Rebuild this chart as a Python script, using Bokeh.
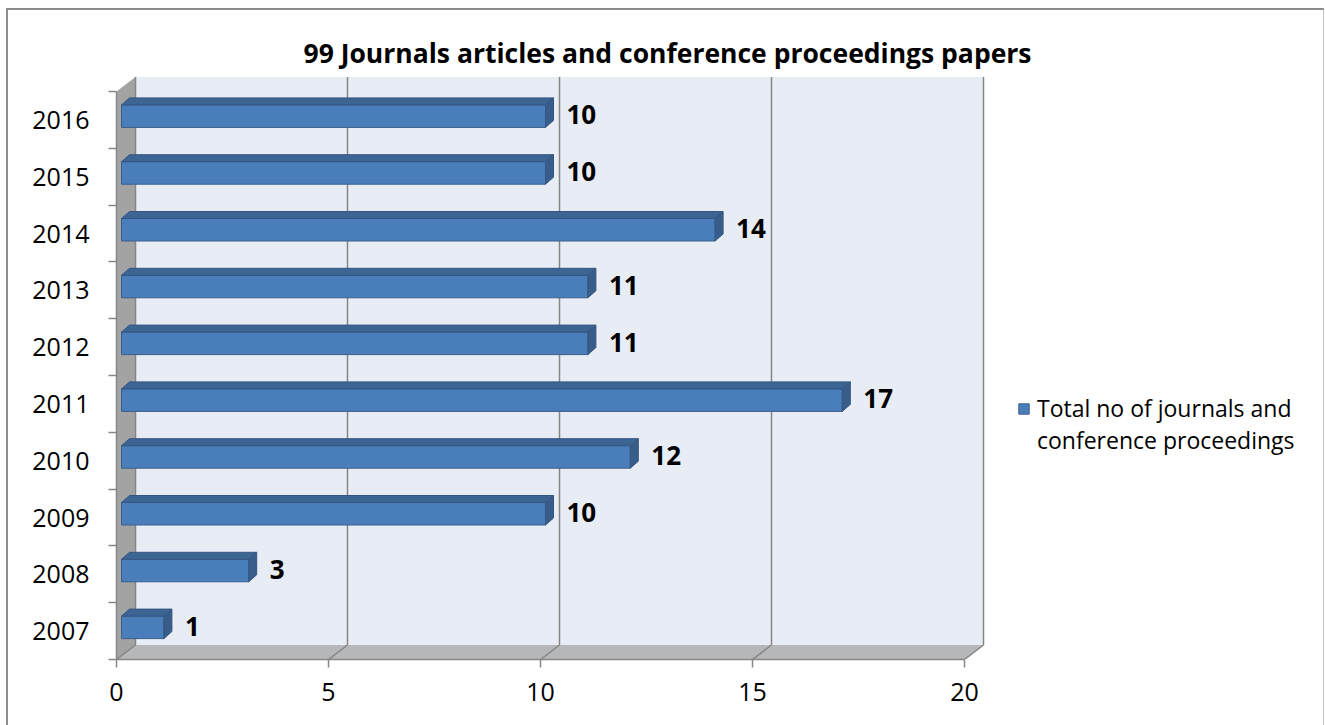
from bokeh.plotting import figure
from bokeh.models import Range1d, FixedTicker, Legend, LegendItem
from bokeh.core.properties import value
from bokeh.embed import file_html
from bokeh.resources import INLINE

# ---- data ----
years = ["2007", "2008", "2009", "2010", "2011", "2012", "2013", "2014", "2015", "2016"]
counts = [1, 3, 10, 12, 17, 11, 11, 14, 10, 10]
x_ticks = [0, 5, 10, 15, 20]
title_text = "99 Journals articles and conference proceedings papers"
legend_lines = ["Total no of journals and", "conference proceedings"]

# ---- layout (pixels) ----
W, H = 1325, 725
LEFT, RIGHT, TOP, BOTTOM = 116, 1325, 72, 659
PX_X = 42.4   # px per value unit
PX_Y = 56.8   # px per category
x_end = (RIGHT - LEFT) / PX_X
y_start = -0.5
y_end = y_start + (BOTTOM - TOP) / PX_Y

DX, DY = 19 / PX_X, 14.5 / PX_Y        # wall depth
OX = 5 / PX_X                           # bar offset from front
FB, FT = -7.5 / PX_Y, 15 / PX_Y         # bar front face bottom/top
BDX, BDY = 8 / PX_X, 7 / PX_Y           # bar depth
GAP = 13 / PX_X
LY = 5 / PX_Y

FONT = "Open Sans"
AX_COL = "#868686"
G = "#8C8C8C"

p = figure(width=W, height=H, output_backend="svg", toolbar_location=None,
           x_range=Range1d(0, x_end), y_range=Range1d(y_start, y_end),
           min_border_left=LEFT, min_border_right=W - RIGHT,
           min_border_top=TOP, min_border_bottom=H - BOTTOM)
p.outline_line_color = None
p.background_fill_color = None
p.border_fill_color = None
p.xgrid.visible = False
p.ygrid.visible = False
p.styles = {
    "background-color": "white",
    "background-image": f"linear-gradient({G},{G}), linear-gradient({G},{G}), linear-gradient(#C4C4C4,#C4C4C4)",
    "background-position": "6px 8px, 6px 8px, 1323px 8px",
    "background-size": "2px 100%, 1318px 2px, 1px 100%",
    "background-repeat": "no-repeat",
}

n = len(years)
ylo, yhi = -0.5, n - 0.5
xmax = x_ticks[-1]

# back wall
p.quad(left=DX, right=xmax + DX, bottom=ylo + DY, top=yhi + DY,
       fill_color="#E8ECF5", line_color=None)
# left wall
p.patch([0, DX, DX, 0], [ylo, ylo + DY, yhi + DY, yhi], fill_color="#A3A3A3", line_color=None)
# floor
p.patch([0, xmax, xmax + DX, DX], [ylo, ylo, ylo + DY, ylo + DY],
        fill_color="#B5B7BA", line_color=None)
# gridlines on wall and floor
p.segment(x0=[t + DX for t in x_ticks], y0=[ylo + DY] * len(x_ticks),
          x1=[t + DX for t in x_ticks], y1=[yhi + DY] * len(x_ticks),
          line_color=AX_COL, line_width=1.5)
p.segment(x0=x_ticks, y0=[ylo] * len(x_ticks),
          x1=[t + DX for t in x_ticks], y1=[ylo + DY] * len(x_ticks),
          line_color=AX_COL, line_width=1.5)

# bars
ys = list(range(n))
front = p.quad(left=[OX] * n, right=[c + OX for c in counts],
               bottom=[i + FB for i in ys], top=[i + FT for i in ys],
               fill_color="#4A7EBB", line_color="#3A5F8C", line_width=1)
p.patches(xs=[[OX, c + OX, c + OX + BDX, OX + BDX] for c in counts],
          ys=[[i + FT, i + FT, i + FT + BDY, i + FT + BDY] for i in ys],
          fill_color="#3D6594", line_color="#345680", line_width=1)
p.patches(xs=[[c + OX, c + OX + BDX, c + OX + BDX, c + OX] for c in counts],
          ys=[[i + FB, i + FB + BDY, i + FT + BDY, i + FT] for i in ys],
          fill_color="#385D8A", line_color="#345680", line_width=1)

# data labels
p.text(x=[c + OX + BDX + GAP for c in counts], y=[i + LY for i in ys],
       text=[str(c) for c in counts], text_font=value(FONT), text_font_style="bold",
       text_font_size="26px", text_align="left", text_baseline="middle", text_color="black")

# axes
xa = p.xaxis[0]
xa.ticker = FixedTicker(ticks=x_ticks)
xa.bounds = (0, xmax)
xa.axis_line_color = AX_COL
xa.axis_line_width = 1.5
xa.major_tick_line_color = AX_COL
xa.major_tick_line_width = 1.5
xa.major_tick_out = 8
xa.major_tick_in = 0
xa.minor_tick_line_color = None
xa.major_label_text_font = FONT
xa.major_label_text_font_size = "25px"
xa.major_label_text_color = "black"
xa.major_label_standoff = 15

ya = p.yaxis[0]
ya.ticker = FixedTicker(ticks=ys, minor_ticks=[i - 0.5 for i in range(n + 1)])
ya.major_label_overrides = {i: years[i] for i in ys}
ya.bounds = (ylo, yhi)
ya.axis_line_color = AX_COL
ya.axis_line_width = 1.5
ya.major_tick_line_color = None
ya.major_tick_out = 0
ya.major_tick_in = 0
ya.minor_tick_line_color = AX_COL
ya.minor_tick_line_width = 1.5
ya.minor_tick_out = 8
ya.minor_tick_in = 0
ya.major_label_text_font = FONT
ya.major_label_text_font_size = "25px"
ya.major_label_text_color = "black"
ya.major_label_standoff = 19

# title
p.title.text = title_text
p.title.align = "left"
p.title.offset = 303 - LEFT
p.title.text_font = FONT
p.title.text_font_style = "bold"
p.title.text_font_size = "26.5px"
p.title.text_color = "black"
p.title.standoff = 4

# legend (second line carried by an invisible glyph)
blank = p.quad(left=[], right=[], bottom=[], top=[], fill_alpha=0, line_alpha=0)
legend = Legend(items=[LegendItem(label=legend_lines[0], renderers=[front]),
                       LegendItem(label=legend_lines[1], renderers=[blank])],
                location=(1017 - LEFT, BOTTOM - 456), padding=0, margin=0, spacing=0,
                glyph_width=13, glyph_height=13, label_standoff=7, label_height=32,
                border_line_color=None, background_fill_alpha=0,
                label_text_font=FONT, label_text_font_size="23px", label_text_color="black")
p.add_layout(legend, "center")

open("out.html", "w").write(file_html(p, INLINE))
